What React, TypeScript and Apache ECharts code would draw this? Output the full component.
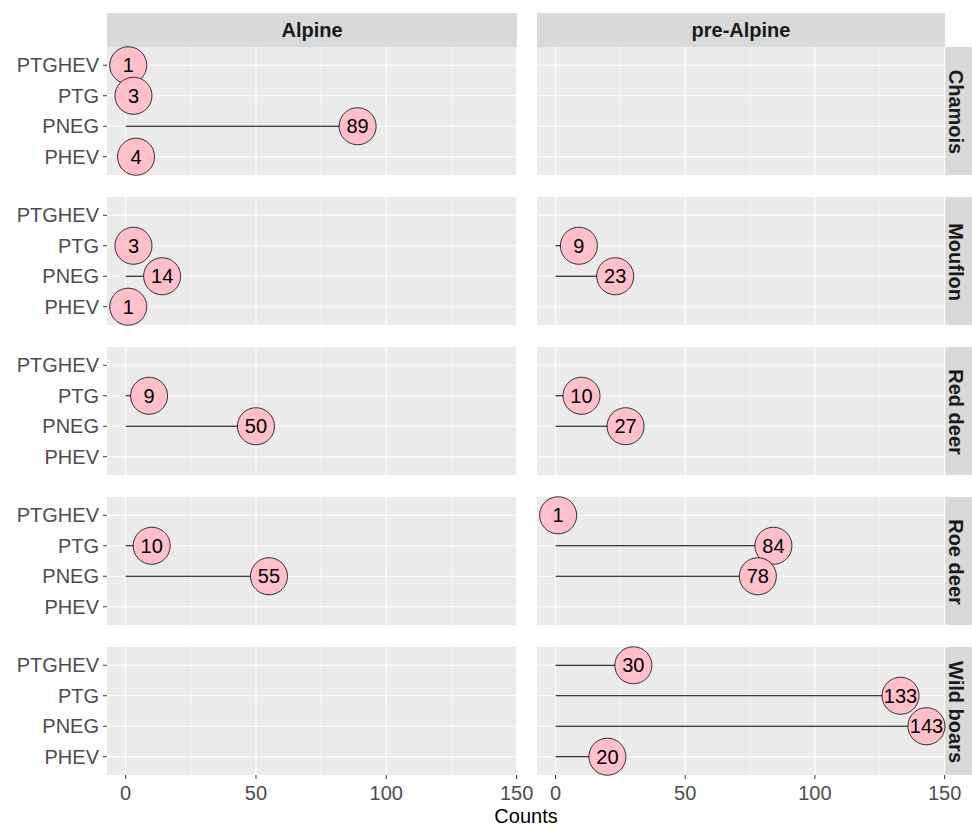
import React, { useEffect, useRef } from 'react';
import * as echarts from 'echarts';

// ---- data ----
const categories = ['PTGHEV', 'PTG', 'PNEG', 'PHEV'];
const regions = ['Alpine', 'pre-Alpine'];
const species = ['Chamois', 'Mouflon', 'Red deer', 'Roe deer', 'Wild boars'];
const xTicks = [0, 50, 100, 150];
const xMinorTicks = [25, 75, 125];
const xTitle = 'Counts';

// counts in category order (PTGHEV, PTG, PNEG, PHEV); null = no record
const chamoisAlpine = [1, 3, 89, 4];
const chamoisPreAlpine = [null, null, null, null];
const mouflonAlpine = [null, 3, 14, 1];
const mouflonPreAlpine = [null, 9, 23, null];
const redDeerAlpine = [null, 9, 50, null];
const redDeerPreAlpine = [null, 10, 27, null];
const roeDeerAlpine = [null, 10, 55, null];
const roeDeerPreAlpine = [1, 84, 78, null];
const wildBoarsAlpine = [null, null, null, null];
const wildBoarsPreAlpine = [30, 133, 143, 20];

const panelValues: (number | null)[][][] = [
  [chamoisAlpine, chamoisPreAlpine],
  [mouflonAlpine, mouflonPreAlpine],
  [redDeerAlpine, redDeerPreAlpine],
  [roeDeerAlpine, roeDeerPreAlpine],
  [wildBoarsAlpine, wildBoarsPreAlpine],
];

// ---- layout / style ----
const FONT = '"Liberation Sans", Arial, sans-serif';
const colLeft = [107, 537];
const colWidth = [410, 408];
const rowTop0 = 47;
const rowStep = 150;
const rowHeight = 128;
const stripTop = 13;
const stripH = 34;
const rightStripX = 945;
const rightStripW = 27;
const X_MIN = -7.15;
const X_MAX = 150.15;
const Y_MIN = 0.4;
const Y_MAX = 4.6;
const TICK_LEN = 4;
const TICK_COLOR = '#333333';

function buildOption() {
  const grid: any[] = [];
  const xAxis: any[] = [];
  const yAxis: any[] = [];
  const series: any[] = [];
  const graphic: any[] = [];

  const catIdx = categories.map((_, i) => i + 1);

  species.forEach((sp, r) => {
    regions.forEach((rg, c) => {
      const k = r * 2 + c;
      const isBottom = r === species.length - 1;
      const isLeft = c === 0;
      grid.push({
        left: colLeft[c],
        top: rowTop0 + r * rowStep,
        width: colWidth[c],
        height: rowHeight,
        show: true,
        backgroundColor: '#EBEBEB',
        borderWidth: 0,
        containLabel: false,
      });
      xAxis.push({
        type: 'value',
        gridIndex: k,
        min: X_MIN,
        max: X_MAX,
        axisLine: { show: false },
        splitLine: { show: false },
        axisTick: { show: false },
        axisLabel: {
          show: isBottom,
          customValues: xTicks,
          color: '#4D4D4D',
          fontSize: 20,
          fontFamily: FONT,
          margin: 8,
        },
      });
      yAxis.push({
        type: 'value',
        gridIndex: k,
        min: Y_MIN,
        max: Y_MAX,
        inverse: true,
        axisLine: { show: false },
        splitLine: { show: false },
        axisTick: { show: false },
        axisLabel: {
          show: isLeft,
          customValues: catIdx,
          formatter: (v: number) => categories[Math.round(v) - 1] ?? '',
          color: '#4D4D4D',
          fontSize: 20,
          fontFamily: FONT,
          margin: 8,
        },
      });

      // gridlines (+ ticks): kind 0 major vertical, 1 minor vertical, 2 horizontal
      const gridData: number[][] = [
        ...xTicks.map((v) => [v, 1, 0]),
        ...xMinorTicks.map((v) => [v, 1, 1]),
        ...catIdx.map((y) => [0, y, 2]),
      ];
      series.push({
        type: 'custom',
        xAxisIndex: k,
        yAxisIndex: k,
        silent: true,
        clip: false,
        z: 1,
        encode: { x: 0, y: 1 },
        data: gridData,
        renderItem: (params: any, api: any) => {
          const cs = params.coordSys;
          const kind = api.value(2);
          if (kind === 2) {
            const y = api.coord([0, api.value(1)])[1];
            const children: any[] = [
              {
                type: 'line',
                shape: { x1: cs.x, y1: y, x2: cs.x + cs.width, y2: y },
                style: { stroke: '#FFFFFF', lineWidth: 1.1 },
              },
            ];
            if (isLeft) {
              children.push({
                type: 'line',
                shape: { x1: cs.x - TICK_LEN, y1: y, x2: cs.x, y2: y },
                style: { stroke: TICK_COLOR, lineWidth: 1 },
              });
            }
            return { type: 'group', children };
          }
          const x = api.coord([api.value(0), 1])[0];
          const children: any[] = [
            {
              type: 'line',
              shape: { x1: x, y1: cs.y, x2: x, y2: cs.y + cs.height },
              style: { stroke: '#FFFFFF', lineWidth: kind === 0 ? 1.1 : 0.55 },
            },
          ];
          if (isBottom && kind === 0) {
            children.push({
              type: 'line',
              shape: { x1: x, y1: cs.y + cs.height, x2: x, y2: cs.y + cs.height + TICK_LEN },
              style: { stroke: TICK_COLOR, lineWidth: 1 },
            });
          }
          return { type: 'group', children };
        },
      });

      const vals = panelValues[r][c];
      const pts: number[][] = [];
      vals.forEach((v, i) => {
        if (v !== null && v !== undefined) pts.push([v, i + 1]);
      });

      // segments
      series.push({
        type: 'custom',
        xAxisIndex: k,
        yAxisIndex: k,
        silent: true,
        z: 2,
        encode: { x: 0, y: 1 },
        data: pts,
        renderItem: (params: any, api: any) => {
          const y = api.value(1);
          const p0 = api.coord([0, y]);
          const p1 = api.coord([api.value(0), y]);
          return {
            type: 'line',
            shape: { x1: p0[0], y1: p0[1], x2: p1[0], y2: p1[1] },
            style: { stroke: '#000000', lineWidth: 1 },
          };
        },
      });

      // points
      series.push({
        type: 'scatter',
        xAxisIndex: k,
        yAxisIndex: k,
        z: 3,
        silent: true,
        symbol: 'circle',
        symbolSize: 37,
        data: pts,
        itemStyle: { color: '#FFC0CB', borderColor: '#000000', borderWidth: 0.8, opacity: 1 },
        label: {
          show: true,
          position: 'inside',
          formatter: (p: any) => String(p.value[0]),
          color: '#000000',
          fontSize: 20,
          fontFamily: FONT,
        },
        emphasis: { disabled: true },
      });

      // right strip (per row)
      if (c === regions.length - 1) {
        const top = rowTop0 + r * rowStep;
        graphic.push({
          type: 'rect',
          shape: { x: rightStripX, y: top, width: rightStripW, height: rowHeight },
          style: { fill: '#D9D9D9' },
          silent: true,
        });
        graphic.push({
          type: 'text',
          x: rightStripX + 11,
          y: top + rowHeight / 2 + 1,
          rotation: -Math.PI / 2,
          style: {
            text: sp,
            font: `bold 20px ${FONT}`,
            fill: '#1A1A1A',
            align: 'center',
            verticalAlign: 'middle',
          },
          silent: true,
        });
      }
    });
  });

  // top strips
  regions.forEach((rg, c) => {
    graphic.push({
      type: 'rect',
      shape: { x: colLeft[c], y: stripTop, width: colWidth[c], height: stripH },
      style: { fill: '#D9D9D9' },
      silent: true,
    });
    graphic.push({
      type: 'text',
      x: colLeft[c] + colWidth[c] / 2,
      y: stripTop + stripH / 2,
      style: {
        text: rg,
        font: `bold 20px ${FONT}`,
        fill: '#1A1A1A',
        align: 'center',
        verticalAlign: 'middle',
      },
      silent: true,
    });
  });

  graphic.push({
    type: 'text',
    x: (colLeft[0] + colLeft[1] + colWidth[1]) / 2,
    y: 816,
    style: {
      text: xTitle,
      font: `20px ${FONT}`,
      fill: '#000000',
      align: 'center',
      verticalAlign: 'middle',
    },
    silent: true,
  });

  return {
    animation: false,
    backgroundColor: '#FFFFFF',
    grid,
    xAxis,
    yAxis,
    series,
    graphic,
  };
}

export default function App() {
  const ref = useRef<HTMLDivElement>(null);
  useEffect(() => {
    if (!ref.current) return;
    const chart = echarts.init(ref.current, undefined, { renderer: 'svg' });
    chart.setOption(buildOption() as any);
    return () => chart.dispose();
  }, []);
  return (
    <div
      ref={ref}
      style={{ position: 'fixed', left: 0, top: 0, width: 972, height: 826 }}
    />
  );
}
